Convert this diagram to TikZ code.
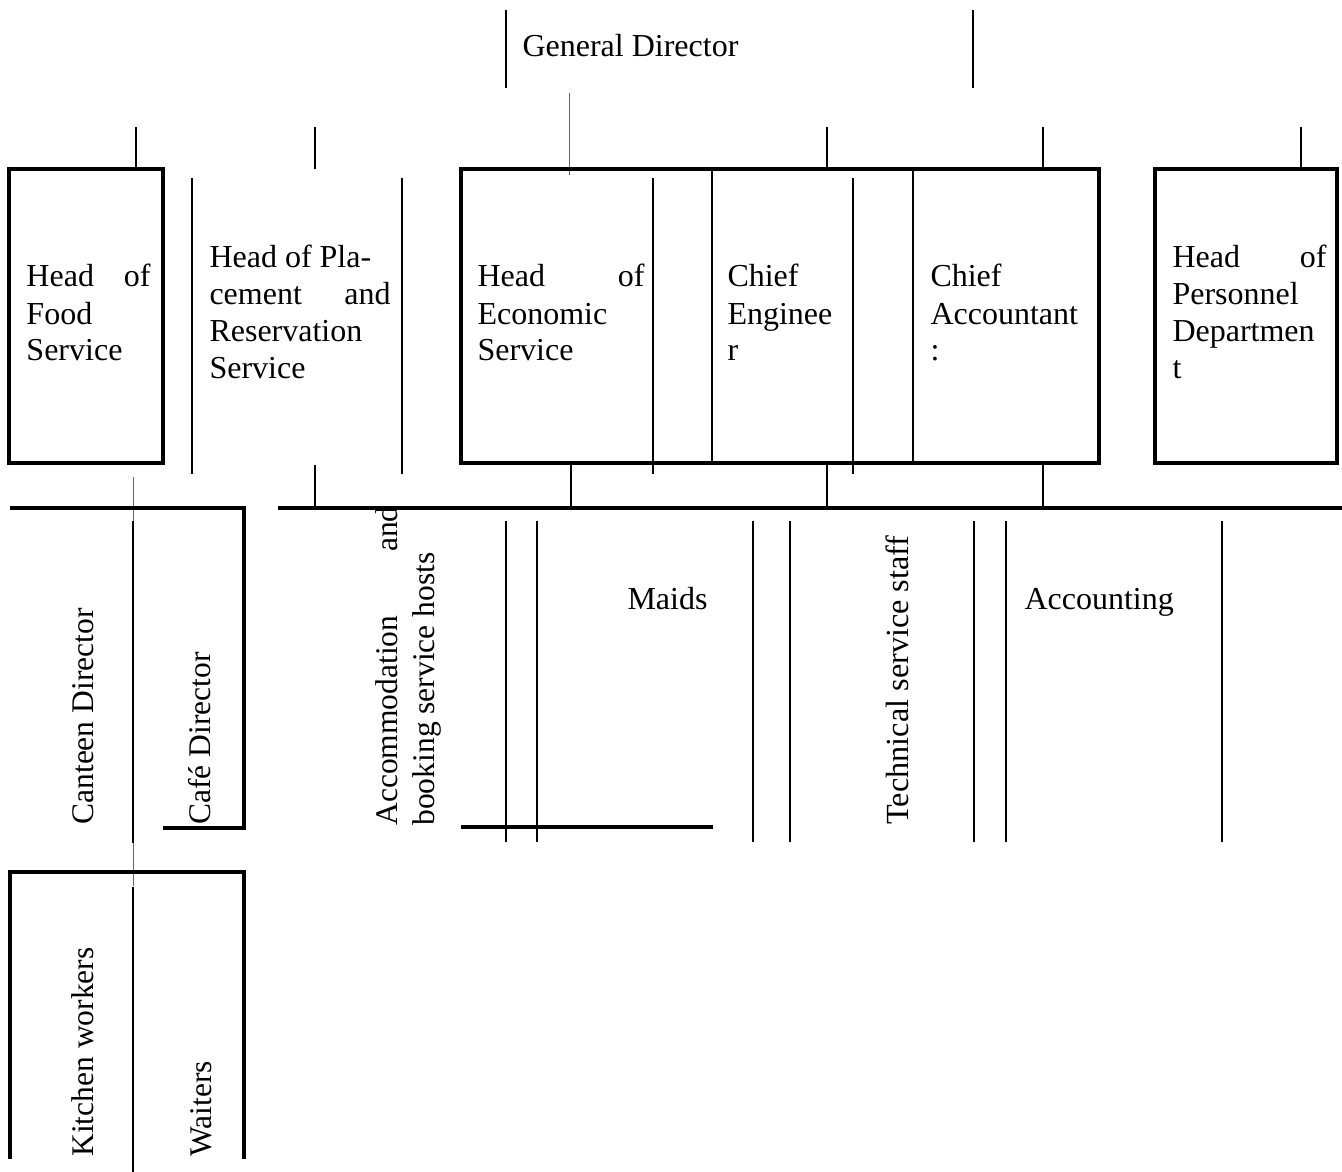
\documentclass[tikz,border=0pt]{standalone}
\usepackage{fontspec}
\setmainfont{Liberation Serif}
\tikzset{
  boxline/.style={line width=1.3pt},
  rule/.style={line width=1.1pt},
  link/.style={line width=0.8pt},
  hair/.style={line width=0.4pt,black!60},
  lbl/.style={inner sep=0pt,anchor=base west,font=\fontsize{12.8}{14.8}\selectfont},
  vlbl/.style={lbl,rotate=90,font=\fontsize{12.6}{14.8}\selectfont},
}
\begin{document}
\begin{tikzpicture}[x=0.4pt,y=-0.4pt]
\useasboundingbox (0,0) rectangle (1342,1172);

\node[lbl] (gendir) at (522,57) {General Director};
\node[lbl,text width=49.6pt,align=justify] (foodhead) at (26,287) {Head\hfill of\\Food\\Service};
\node[lbl,text width=72.4pt,align=justify] (placehead) at (209,268) {Head of Pla-\\cement\hfill and\\Reservation\\Service};
\node[lbl,text width=66.8pt,align=justify] (econhead) at (477,287) {Head\hfill of\\Economic\\Service};
\node[lbl,text width=60pt,align=left] (engineer) at (727,287) {Chief\\Enginee\\r};
\node[lbl,text width=66pt,align=left] (accountant) at (930,287) {Chief\\Accountant\\:};
\node[lbl,text width=61.6pt,align=justify] (personnel) at (1172,268) {Head\hfill of\\Personnel\\Departmen\\t};

\node[vlbl] (canteen) at (94,825) {Canteen Director};
\node[vlbl] (cafe) at (210,825) {Café Director};
\node[vlbl,text width=127.6pt,align=justify] (accomm) at (397,826) {Accommodation\hfill and\\booking service hosts};
\node[lbl] (maids) at (627,609) {Maids};
\node[vlbl,font=\fontsize{12.9}{14.8}\selectfont] (techstaff) at (908,825) {Technical service staff};
\node[lbl] (accounting) at (1024,609) {Accounting};
\node[vlbl] (kitchen) at (94,1157) {Kitchen workers};
\node[vlbl] (waiters) at (211,1157) {Waiters};

\draw[rule] (506,10) -- (506,88) (973,10) -- (973,88);
\draw[hair] (569,93) -- (569,175);
\foreach \x in {136,315,827,1043,1301}
  \draw[link] (\x,127) -- (\x,169);

\draw[boxline] (9,169) rectangle (163,463);
\draw[boxline] (461,169) rectangle (1099,463);
\draw[boxline] (1155,169) rectangle (1337,463);
\draw[rule] (712,169) -- (712,463) (913,169) -- (913,463);
\foreach \x in {192,402,653,853}
  \draw[rule] (\x,178) -- (\x,474);

\draw[link] (315,465) -- (315,508);
\foreach \x in {571,827,1043}
  \draw[link] (\x,463) -- (\x,508);
\draw[hair] (133,477) -- (133,886);
\draw[boxline] (10,508) -- (244,508) -- (244,828) -- (163,828);
\draw[boxline] (278,508) -- (1342,508);
\draw[rule] (133,521) -- (133,843) (133,887) -- (133,1172);

\foreach \x in {506,537,753,790,974,1006,1222}
  \draw[rule] (\x,521) -- (\x,842);
\draw[boxline] (461,827) -- (713,827);

\draw[boxline] (10,1159) -- (10,872) -- (244,872) -- (244,1159);
\end{tikzpicture}
\end{document}
